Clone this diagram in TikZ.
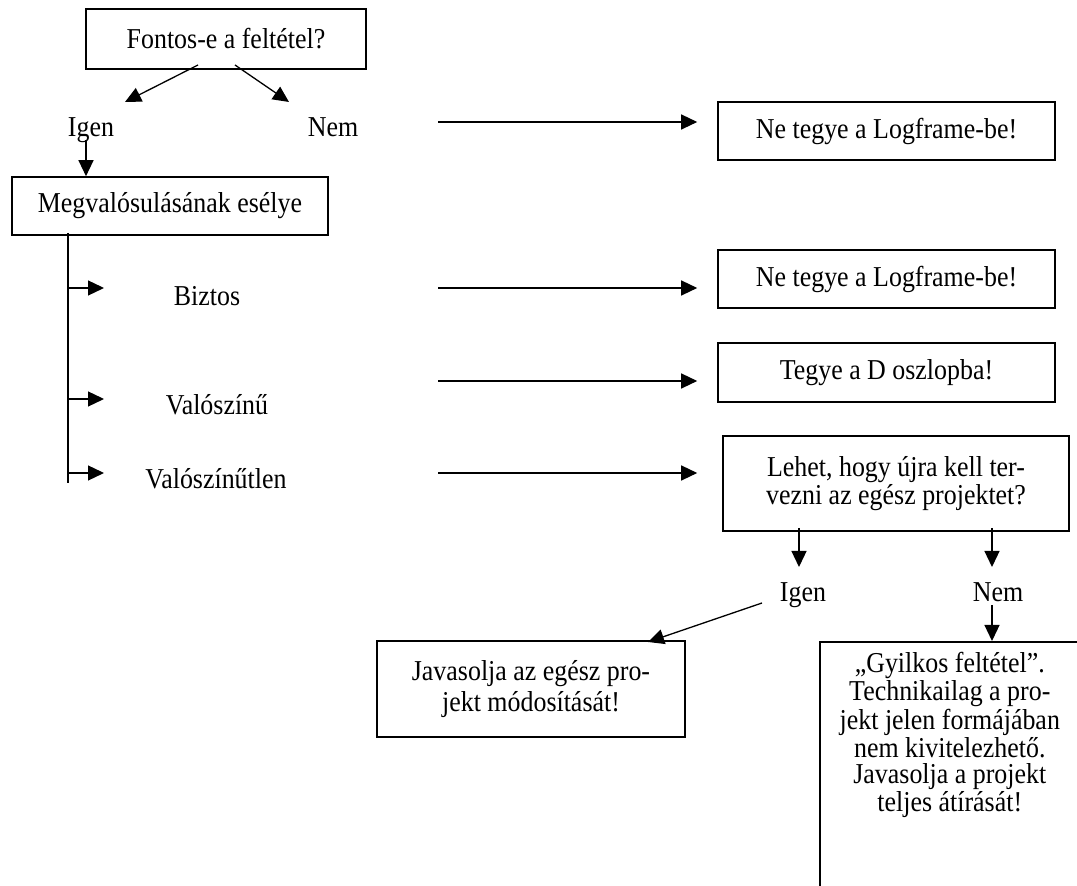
\documentclass[tikz,border=0pt]{standalone}
\usepackage{fontspec}
\setmainfont[FakeStretch=0.9]{Liberation Serif}
\usetikzlibrary{arrows.meta}
\begin{document}
\begin{tikzpicture}[x=0.5pt,y=-0.5pt, line width=0.8pt,
  every node/.style={font=\fontsize{14.4}{15}\selectfont},
  box/.style={draw, inner sep=0pt, align=center},
  lbl/.style={anchor=base, inner sep=0pt},
  arr/.style={-{Triangle[length=8pt,width=7.5pt]}, line width=0.65pt}]
\useasboundingbox (0,0) rectangle (1077,886);
\clip (0,0) rectangle (1077,886);

% nodes
\node[box, minimum width=140pt, minimum height=30pt] (fontos) at (226,39) {Fontos-e a feltétel?};
\node[lbl] (igen1) at (91,137) {Igen};
\node[lbl] (nem1) at (333,137) {Nem};
\node[box, minimum width=158pt, minimum height=29pt] (megval) at (170,206) {Megvalósulásának esélye};
\node[box, minimum width=168.5pt, minimum height=29pt] (ne1) at (886.5,131) {Ne tegye a Logframe-be!};
\node[lbl] (biztos) at (207,306) {Biztos};
\node[lbl] (valo) at (217,415) {Valószínű};
\node[lbl] (valot) at (216,489) {Valószínűtlen};
\node[box, minimum width=168.5pt, minimum height=29pt] (ne2) at (886.5,279) {Ne tegye a Logframe-be!};
\node[box, minimum width=168.5pt, minimum height=29.5pt] (tegye) at (886.5,372.5) {Tegye a D oszlopba!};
\node[box, minimum width=173pt, minimum height=47.5pt, font=\fontsize{14.4}{14}\selectfont] (lehet) at (896,483.5) {Lehet, hogy újra kell ter-\\vezni az egész projektet?};
\node[lbl] (igen2) at (803,602) {Igen};
\node[lbl] (nem2) at (998,602) {Nem};
\node[box, minimum width=154pt, minimum height=48pt, font=\fontsize{14.4}{15.5}\selectfont] (jav) at (531,689) {Javasolja az egész pro-\\jekt módosítását!};
\node[box, anchor=north west, font=\fontsize{14.4}{13}\selectfont] (gyil) at (819,641) {\parbox[c][130pt][t]{130pt}{\centering\rule{0pt}{15.5pt}„Gyilkos feltétel”.\\Technikailag a pro-\\jekt jelen formájában\\nem kivitelezhető.\\Javasolja a projekt\\teljes átírását!}};

% connector end points
\coordinate (a1) at (198,65); \coordinate (a1e) at (125,102);
\coordinate (a2) at (235,65); \coordinate (a2e) at (289,102);
\coordinate (a3) at (86,140);
\coordinate (h1) at (438,122);
\coordinate (t0) at (68,233); \coordinate (t9) at (68,483);
\coordinate (b1) at (68,288); \coordinate (b1e) at (104,288);
\coordinate (b2) at (68,399); \coordinate (b2e) at (104,399);
\coordinate (b3) at (68,473); \coordinate (b3e) at (104,473);
\coordinate (h2) at (438,288); \coordinate (h3) at (438,381); \coordinate (h4) at (438,473);
\coordinate (l1) at (799,528); \coordinate (l1e) at (799,567);
\coordinate (l2) at (992,528); \coordinate (l2e) at (992,567);
\coordinate (g1) at (762,603); \coordinate (g1e) at (648,642);
\coordinate (n2) at (992,605);

% connectors
\draw[arr] (a1) -- (a1e);
\draw[arr] (a2) -- (a2e);
\draw[arr] (a3) -- (a3 |- megval.north);
\draw[arr, shorten >=10pt] (h1) -- (h1 -| ne1.west);
\draw (t0) -- (t9);
\draw[arr] (b1) -- (b1e);
\draw[arr] (b2) -- (b2e);
\draw[arr] (b3) -- (b3e);
\draw[arr, shorten >=10pt] (h2) -- (h2 -| ne2.west);
\draw[arr, shorten >=10pt] (h3) -- (h3 -| tegye.west);
\draw[arr, shorten >=12.5pt] (h4) -- (h4 -| lehet.west);
\draw[arr] (l1) -- (l1e);
\draw[arr] (l2) -- (l2e);
\draw[arr] (g1) -- (g1e);
\draw[arr] (n2) -- (n2 |- gyil.north);
\end{tikzpicture}
\end{document}
